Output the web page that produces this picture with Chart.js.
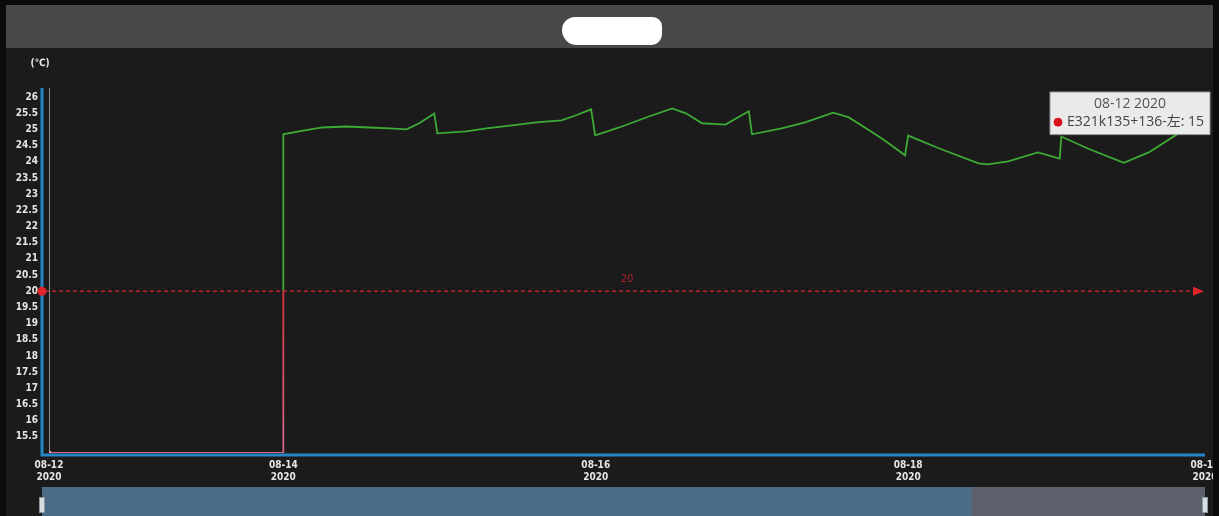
<!DOCTYPE html>
<html>
<head>
<meta charset="utf-8">
<script src="https://cdn.jsdelivr.net/npm/chart.js@4.4.1/dist/chart.umd.min.js"></script>
<style>
  html, body { margin: 0; padding: 0; background: #0b0b0b; width: 1219px; height: 516px; overflow: hidden; }
  #head { position: absolute; left: 6px; top: 5px; width: 1207px; height: 43px; background: #484848; }
  #blot { position: absolute; left: 556px; top: 12px; width: 100px; height: 28px; background: #fff; border-radius: 14px 10px 12px 16px; }
  #wrap { position: absolute; left: 6px; top: 48px; width: 1207px; height: 468px; background: #1b1b1b; }
  #slider { position: absolute; left: 42px; top: 487px; width: 1163px; height: 29px; background: #5d5f6b; }
  #slider .sel { position: absolute; left: 0; top: 0; width: 930px; height: 29px; background: #4c6b86; }
  .hd { position: absolute; top: 10px; width: 4px; height: 14px; background: #d8dde2; border: 1px solid #8a96a2; }
</style>
</head>
<body>
<div id="head"><div id="blot"></div></div>
<div id="wrap"><canvas id="temp" width="1207" height="468"></canvas></div>
<div id="slider"><div class="sel"></div><div class="hd" style="left:-3px"></div><div class="hd" style="left:1160px"></div></div>
<script>
// axis ticks
const xTickPos = [0, 7.5, 17.5, 27.5, 37];
const xTickDates = ['08-12', '08-14', '08-16', '08-18', '08-19'];
const xTickYears = ['2020', '2020', '2020', '2020', '2020'];
const yTicks = [15.5, 16, 16.5, 17, 17.5, 18, 18.5, 19, 19.5, 20, 20.5, 21, 21.5, 22, 22.5, 23, 23.5, 24, 24.5, 25, 25.5, 26];

// series
const seriesName = 'E321k135+136-左';
const xIdx = [0, 7.5, 7.5, 8.0, 8.75, 9.5, 10.25, 10.9, 11.45, 11.85,
  12.33, 12.43, 13.35, 14.0, 14.75, 15.6, 16.4, 16.85, 17.35, 17.48,
  18.25, 19.2, 19.95, 20.4, 20.9, 21.65, 22.4, 22.5, 23.45, 24.2,
  25.1, 25.6, 26.35, 26.75, 27.4, 27.5, 28.5, 29.75, 30.05, 30.7,
  31.65, 32.35, 32.4, 33.25, 34.4, 35.2, 36.3, 36.9];
const temps = [15, 15, 24.85, 24.94, 25.06, 25.09, 25.06, 25.03, 25.0, 25.19,
  25.49, 24.88, 24.94, 25.03, 25.12, 25.22, 25.28, 25.43, 25.62, 24.82,
  25.06, 25.4, 25.65, 25.49, 25.19, 25.15, 25.56, 24.85, 25.03, 25.22,
  25.52, 25.37, 24.91, 24.66, 24.2, 24.81, 24.41, 23.95, 23.92, 24.01,
  24.29, 24.1, 24.78, 24.41, 23.97, 24.29, 24.97, 25.25];
const threshold = 20;

const green = '#3daa35', red = '#d8323c';

const lineColor = ctx => {
  const { chart } = ctx, area = chart.chartArea;
  if (!area) return green;
  const y = chart.scales.y.getPixelForValue(threshold);
  const stop = Math.min(1, Math.max(0, (y - area.top) / (area.bottom - area.top)));
  const g = chart.ctx.createLinearGradient(0, area.top, 0, area.bottom);
  g.addColorStop(0, green); g.addColorStop(stop, green);
  g.addColorStop(stop, red); g.addColorStop(1, '#d46a8c');
  return g;
};

// axis lines, unit text and the 20 marker line
const decor = {
  id: 'decor',
  beforeDatasetsDraw(chart) {
    const { ctx, chartArea: { left, right, top, bottom } } = chart;
    ctx.save();
    ctx.strokeStyle = '#8c8c8c'; ctx.lineWidth = 1;
    ctx.beginPath(); ctx.moveTo(left + 0.5, top); ctx.lineTo(left + 0.5, bottom); ctx.stroke();
    ctx.strokeStyle = '#2486c6'; ctx.lineWidth = 3;
    ctx.beginPath(); ctx.moveTo(left - 7, top); ctx.lineTo(left - 7, bottom + 2);
    ctx.lineTo(right, bottom + 2); ctx.stroke();
    ctx.fillStyle = '#e6e6e6';
    ctx.font = 'bold 10px "DejaVu Sans Condensed"';
    ctx.textAlign = 'center'; ctx.textBaseline = 'middle';
    ctx.fillText('(℃)', left - 9, 15);
    ctx.restore();
  },
  afterDatasetsDraw(chart) {
    const { ctx, chartArea: { left, right } } = chart;
    const y = chart.scales.y.getPixelForValue(threshold);
    ctx.save();
    ctx.strokeStyle = '#e0242c'; ctx.fillStyle = '#e0242c'; ctx.lineWidth = 1.3;
    ctx.setLineDash([4, 3]);
    ctx.beginPath(); ctx.moveTo(left - 4, y); ctx.lineTo(right - 10, y); ctx.stroke();
    ctx.setLineDash([]);
    ctx.beginPath(); ctx.arc(left - 7, y, 4.5, 0, Math.PI * 2); ctx.fill();
    ctx.beginPath(); ctx.moveTo(right - 12, y - 4.5); ctx.lineTo(right - 1, y); ctx.lineTo(right - 12, y + 4.5); ctx.closePath(); ctx.fill();
    ctx.fillStyle = '#a8262c'; ctx.font = '10px "DejaVu Sans"';
    ctx.textAlign = 'center'; ctx.textBaseline = 'middle';
    ctx.fillText(String(threshold), (left + right) / 2, y - 12);
    ctx.restore();
  }
};

Chart.Tooltip.positioners.corner = function () {
  return { x: 1044, y: 44 };
};

const tickFont = { family: '"DejaVu Sans Condensed"', size: 10, weight: 'bold' };

const chart = new Chart(document.getElementById('temp'), {
  type: 'line',
  plugins: [decor],
  data: {
    datasets: [{
      label: seriesName,
      data: xIdx.map((x, i) => ({ x: x, y: temps[i] })),
      borderColor: lineColor,
      borderWidth: 1.8,
      tension: 0,
      pointRadius: ctx => ctx.dataIndex === 0 ? 2.5 : 0,
      pointBackgroundColor: '#f09aa8',
      pointBorderWidth: 0
    }]
  },
  options: {
    responsive: false,
    animation: false,
    events: [],
    layout: { padding: { top: 40, right: 8, bottom: 29, left: 0 } },
    plugins: {
      legend: { display: false },
      tooltip: {
        position: 'corner',
        xAlign: 'left', yAlign: 'top',
        caretSize: 0, caretPadding: 0, cornerRadius: 0,
        backgroundColor: 'rgba(242,242,242,0.96)',
        borderColor: '#9a9a9a', borderWidth: 1,
        titleColor: '#555', bodyColor: '#444',
        titleFont: { family: '"Open Sans", "Noto Sans CJK SC"', size: 14, weight: 'normal' },
        bodyFont: { family: '"Open Sans", "Noto Sans CJK SC"', size: 14 },
        titleAlign: 'center', titleMarginBottom: 1,
        padding: { top: 4, bottom: 4, left: 4, right: 6 },
        usePointStyle: true, boxWidth: 8, boxHeight: 8, boxPadding: 3,
        callbacks: {
          title: () => xTickDates[0] + ' ' + xTickYears[0],
          label: c => c.dataset.label + ': ' + c.parsed.y,
          labelColor: () => ({ borderColor: '#d9121b', backgroundColor: '#d9121b' }),
          labelPointStyle: () => ({ pointStyle: 'circle', rotation: 0 })
        }
      }
    },
    scales: {
      x: {
        type: 'linear', min: 0, max: 37,
        grid: { display: false, drawTicks: false },
        border: { display: false },
        afterBuildTicks: s => { s.ticks = xTickPos.map(v => ({ value: v })); },
        afterFit: s => { s.height = 34; s.paddingLeft = 0; s.paddingRight = 0; },
        ticks: {
          autoSkip: false, maxRotation: 0, padding: 6,
          color: '#e6e6e6', font: tickFont,
          callback: (v, i) => [xTickDates[i], xTickYears[i]]
        }
      },
      y: {
        min: 15, max: 26.28,
        grid: { display: false, drawTicks: false },
        border: { display: false },
        afterBuildTicks: s => { s.ticks = yTicks.map(v => ({ value: v })); },
        afterFit: s => { s.width = 43; },
        ticks: { padding: 11, color: '#e6e6e6', font: tickFont, callback: v => String(v) }
      }
    }
  }
});

chart.tooltip.setActiveElements([{ datasetIndex: 0, index: 0 }], { x: 0, y: 0 });
chart.draw();
</script>
</body>
</html>
